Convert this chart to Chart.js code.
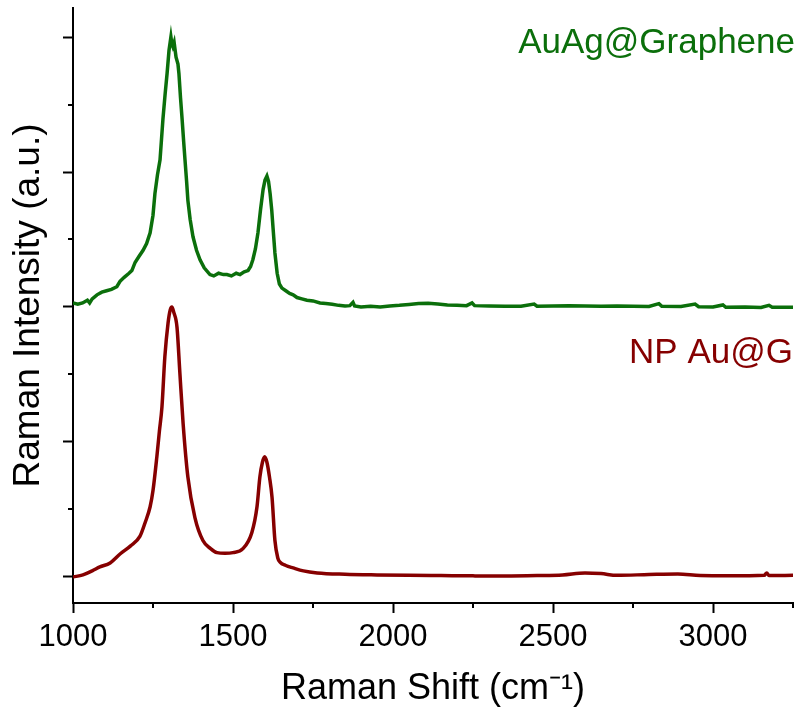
<!DOCTYPE html>
<html>
<head>
<meta charset="utf-8">
<title>Raman spectra</title>
<script src="https://cdn.jsdelivr.net/npm/chart.js@4.4.1/dist/chart.umd.min.js"></script>
<style>
  html, body { margin: 0; padding: 0; background: #fff; }
  #wrap { width: 798px; height: 719px; }
</style>
</head>
<body>
<div id="wrap"><canvas id="raman" width="798" height="719"></canvas></div>
<script>
// Spectrum: AuAg@Graphene (raw counts, a.u.)
const greenShift = [1000, 1015, 1030, 1045, 1052, 1060, 1075, 1090, 1105, 1120, 1137, 1147, 1160, 1175, 1184,
  1194, 1205, 1219, 1230, 1241, 1250, 1256, 1264, 1272, 1281, 1288, 1294, 1300, 1306, 1309, 1312, 1316,
  1322, 1328, 1331, 1336, 1341, 1346, 1350, 1355, 1359, 1366, 1375, 1386, 1397, 1410, 1428, 1440, 1455,
  1470, 1481, 1495, 1510, 1522, 1535, 1547, 1555, 1562, 1570, 1578, 1586, 1594, 1600, 1606, 1611, 1616,
  1621, 1625, 1631, 1638, 1645, 1653, 1665, 1677, 1688, 1700, 1715, 1731, 1750, 1772, 1790, 1810, 1830,
  1850, 1865, 1875, 1880, 1900, 1930, 1960, 1990, 2020, 2050, 2080, 2110, 2140, 2170, 2200, 2230, 2247,
  2255, 2300, 2350, 2400, 2441, 2450, 2500, 2550, 2600, 2650, 2700, 2750, 2800, 2831, 2840, 2900, 2944,
  2955, 3000, 3031, 3040, 3100, 3150, 3175, 3185, 3250];
const greenIntensity = [0.03, 0.02, 0.03, 0.05, 0.03, 0.06, 0.09, 0.11, 0.12, 0.13, 0.15, 0.19, 0.22, 0.25, 0.27,
  0.33, 0.37, 0.42, 0.47, 0.55, 0.68, 0.84, 0.98, 1.09, 1.39, 1.58, 1.73, 1.90, 2.00, 1.95, 1.93, 1.96,
  1.85, 1.80, 1.73, 1.55, 1.39, 1.22, 1.09, 0.93, 0.79, 0.65, 0.52, 0.42, 0.35, 0.29, 0.24, 0.23, 0.25,
  0.24, 0.24, 0.23, 0.25, 0.24, 0.26, 0.27, 0.30, 0.35, 0.43, 0.55, 0.72, 0.87, 0.94, 0.97, 0.93, 0.84,
  0.72, 0.59, 0.40, 0.25, 0.17, 0.14, 0.12, 0.10, 0.09, 0.07, 0.06, 0.05, 0.045, 0.03, 0.025, 0.02, 0.012,
  0.008, 0.01, 0.035, 0.008, 0.0, 0.005, 0.0, 0.008, 0.012, 0.018, 0.025, 0.028, 0.022, 0.015, 0.012, 0.01, 0.03,
  0.01, 0.008, 0.006, 0.005, 0.022, 0.006, 0.008, 0.01, 0.008, 0.006, 0.008, 0.006, 0.004, 0.025, 0.005, 0.004, 0.022,
  0.002, 0.0, 0.015, -0.002, 0.0, -0.003, 0.012, -0.002, -0.002];

// Spectrum: NP Au@G
const redShift = [1000, 1031, 1060, 1084, 1116, 1147, 1180, 1209, 1225, 1241, 1250, 1262, 1270, 1278, 1287,
  1297, 1304, 1309, 1315, 1325, 1334, 1344, 1359, 1381, 1406, 1430, 1450, 1475, 1500, 1531, 1559, 1575,
  1584, 1592, 1599, 1606, 1614, 1622, 1631, 1640, 1647, 1665, 1688, 1720, 1763, 1850, 1950, 2050, 2150,
  2250, 2350, 2450, 2530, 2600, 2650, 2700, 2800, 2890, 2960, 3050, 3160, 3168, 3175, 3250];
const redIntensity = [0.0, 0.015, 0.045, 0.074, 0.104, 0.17, 0.23, 0.30, 0.40, 0.52, 0.64, 0.89, 1.08, 1.26, 1.63,
  1.88, 1.98, 2.0, 1.96, 1.85, 1.51, 1.14, 0.74, 0.44, 0.27, 0.21, 0.18, 0.175, 0.18, 0.21, 0.33, 0.52,
  0.74, 0.85, 0.89, 0.85, 0.74, 0.59, 0.27, 0.14, 0.11, 0.085, 0.067, 0.045, 0.03, 0.02, 0.015, 0.012, 0.01,
  0.008, 0.007, 0.01, 0.015, 0.03, 0.025, 0.012, 0.018, 0.022, 0.01, 0.008, 0.012, 0.03, 0.01, 0.012];

// vertical stacking of the two spectra
const greenOffset = 2;
const redOffset = 0;

const xTicks = [1000, 1500, 2000, 2500, 3000];
const xMinorTicks = [1250, 1750, 2250, 2750, 3250];
const yTicks = [0, 1, 2, 3, 4];
const yMinorTicks = [0.5, 1.5, 2.5, 3.5];

const GREEN = '#0b6f0b';
const RED = '#860000';
const FONT = '"Liberation Sans", Arial, sans-serif';

function toPoints(xs, ys, off) {
  return xs.map((x, i) => ({ x: x, y: ys[i] + off }));
}

// short minor ticks on both axes
const minorTicks = {
  id: 'minorTicks',
  afterDraw(chart) {
    const { ctx, scales: { x, y } } = chart;
    ctx.save();
    ctx.strokeStyle = '#000';
    ctx.lineWidth = 2;
    ctx.beginPath();
    xMinorTicks.forEach(v => {
      const px = Math.round(x.getPixelForValue(v));
      ctx.moveTo(px, x.top);
      ctx.lineTo(px, x.top + 5);
    });
    yMinorTicks.forEach(v => {
      const py = Math.round(y.getPixelForValue(v));
      ctx.moveTo(y.right, py);
      ctx.lineTo(y.right - 5, py);
    });
    ctx.stroke();
    ctx.restore();
  }
};

// series names, right aligned inside the plot
const seriesLabels = {
  id: 'seriesLabels',
  afterDatasetsDraw(chart) {
    const { ctx, chartArea, scales: { y } } = chart;
    ctx.save();
    ctx.font = '35px ' + FONT;
    ctx.textAlign = 'right';
    ctx.textBaseline = 'alphabetic';
    ctx.fillStyle = GREEN;
    ctx.fillText('AuAg@Graphene', chartArea.right + 2, y.getPixelForValue(3.88));
    ctx.fillStyle = RED;
    ctx.fillText('NP Au@G', chartArea.right, y.getPixelForValue(1.585));
    ctx.restore();
  }
};

new Chart(document.getElementById('raman'), {
  type: 'line',
  data: {
    datasets: [{
      label: 'AuAg@Graphene',
      data: toPoints(greenShift, greenIntensity, greenOffset),
      borderColor: GREEN,
      borderWidth: 3.5,
      pointRadius: 0,
      tension: 0
    }, {
      label: 'NP Au@G',
      data: toPoints(redShift, redIntensity, redOffset),
      borderColor: RED,
      borderWidth: 3.5,
      pointRadius: 0,
      cubicInterpolationMode: 'monotone'
    }]
  },
  options: {
    responsive: false,
    animation: false,
    layout: { padding: { top: 8, right: 5, left: 0, bottom: 0 } },
    plugins: { legend: { display: false }, tooltip: { enabled: false } },
    scales: {
      x: {
        type: 'linear',
        min: 1000,
        max: 3250,
        afterBuildTicks: s => { s.ticks = xTicks.map(v => ({ value: v })); },
        grid: { drawOnChartArea: false, drawTicks: true, tickLength: 10, tickWidth: 2, tickColor: '#000' },
        border: { display: true, color: '#000', width: 2 },
        ticks: {
          color: '#000', padding: 6, maxRotation: 0,
          font: { family: FONT, size: 31 },
          callback: v => String(v)
        },
        title: {
          display: true,
          text: 'Raman Shift (cm\u207B\u00B9)',
          color: '#000',
          font: { family: FONT, size: 36 },
          padding: { top: 5.7, bottom: 7.9 }
        }
      },
      y: {
        type: 'linear',
        min: -0.193,
        max: 4.215,
        afterBuildTicks: s => { s.ticks = yTicks.map(v => ({ value: v })); },
        grid: { drawOnChartArea: false, drawTicks: true, tickLength: 10, tickWidth: 2, tickColor: '#000' },
        border: { display: true, color: '#000', width: 2 },
        ticks: { display: false },
        title: {
          display: true,
          text: 'Raman Intensity (a.u.)',
          color: '#000',
          font: { family: FONT, size: 37 },
          padding: { top: 6.8, bottom: 11.8 }
        }
      }
    }
  },
  plugins: [minorTicks, seriesLabels]
});
</script>
</body>
</html>
